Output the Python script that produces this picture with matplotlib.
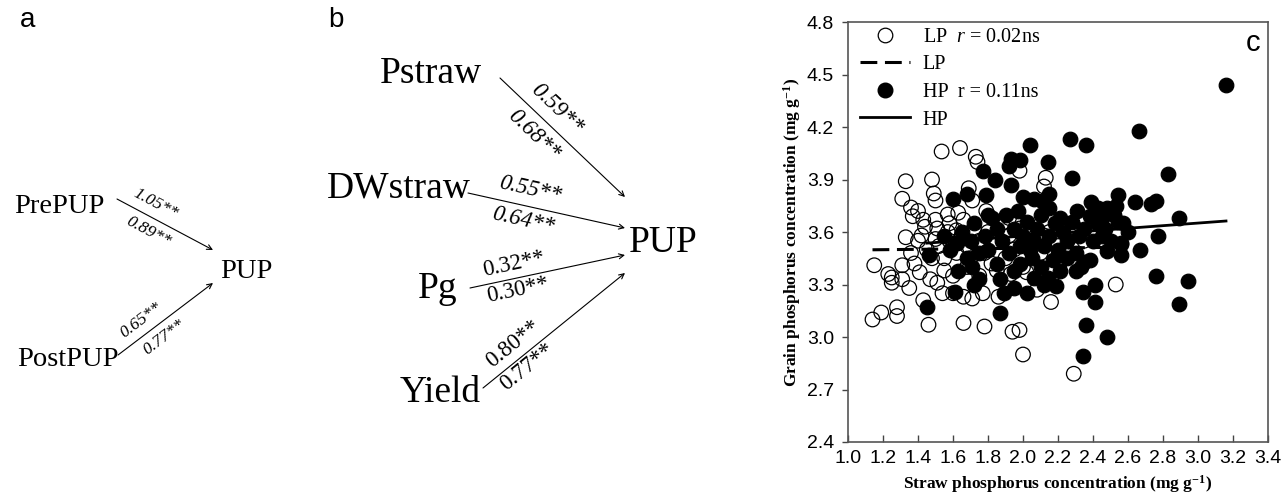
import numpy as np
import matplotlib
matplotlib.use('Agg')
import matplotlib.pyplot as plt
from matplotlib.lines import Line2D

plt.rcParams['font.family'] = ['Liberation Serif', 'DejaVu Serif']
plt.rcParams['mathtext.fontset'] = 'custom'
plt.rcParams['mathtext.rm'] = 'Liberation Serif'
plt.rcParams['mathtext.it'] = 'Liberation Serif:italic'
plt.rcParams['mathtext.bf'] = 'Liberation Serif:bold'

# path diagram a
a_sources = ['PrePUP', 'PostPUP']
a_target = 'PUP'
a_coef_top = ['1.05**', '0.65**']
a_coef_bot = ['0.89**', '0.77**']

# path diagram b
b_sources = ['Pstraw', 'DWstraw', 'Pg', 'Yield']
b_target = 'PUP'
b_coef_top = ['0.59**', '0.55**', '0.32**', '0.80**']
b_coef_bot = ['0.68**', '0.64**', '0.30**', '0.77**']

# scatter c : straw P vs grain P
lp_x = [1.15, 1.14, 1.19, 1.25, 1.25, 1.28, 1.28, 1.31, 1.35, 1.33, 1.31, 1.33, 1.36, 1.40,
        1.37, 1.48, 1.49, 1.50, 1.535, 1.64, 1.73, 1.74, 1.69, 1.71, 1.79, 1.92, 1.98, 2.13,
        2.12, 1.43, 1.50, 1.57, 1.63, 1.44, 1.51, 1.58, 1.66, 1.62, 1.40, 1.43, 1.46, 1.66,
        1.78, 1.31, 1.38, 1.41, 1.47, 1.51, 1.54, 1.60, 1.66, 1.71, 1.77, 1.86, 1.94, 1.98,
        2.00, 2.29, 2.16, 2.53, 2.08, 2.21, 2.02, 1.45, 1.52, 1.55, 1.58, 1.62, 1.65, 1.68,
        1.70, 1.72, 1.75, 1.78, 1.80, 1.82, 1.85, 1.88, 1.90, 1.92, 1.95, 1.98, 2.00, 2.05,
        2.10, 2.15, 2.20, 2.25, 2.30, 1.55, 1.60, 1.48, 1.36, 1.42, 1.50, 1.57, 1.85, 1.75,
        1.68, 2.35, 2.12, 1.93, 1.23]
lp_y = [3.41, 3.10, 3.14, 3.34, 3.31, 3.17, 3.12, 3.33, 3.28, 3.57, 3.79, 3.89, 3.74, 3.72,
        3.69, 3.90, 3.82, 3.78, 4.06, 4.08, 4.03, 4.00, 3.85, 3.78, 3.72, 3.68, 3.95, 3.91,
        3.86, 3.67, 3.67, 3.70, 3.71, 3.63, 3.62, 3.65, 3.67, 3.61, 3.55, 3.21, 3.07, 3.08,
        3.06, 3.41, 3.42, 3.37, 3.33, 3.31, 3.25, 3.25, 3.23, 3.22, 3.25, 3.23, 3.03, 3.04,
        2.90, 2.79, 3.20, 3.30, 3.27, 3.42, 3.37, 3.50, 3.52, 3.45, 3.55, 3.48, 3.58, 3.52,
        3.45, 3.62, 3.55, 3.48, 3.60, 3.42, 3.55, 3.65, 3.45, 3.58, 3.50, 3.62, 3.40, 3.55,
        3.48, 3.60, 3.52, 3.48, 3.62, 3.38, 3.35, 3.45, 3.48, 3.58, 3.56, 3.60, 3.38, 3.35,
        3.40, 3.55, 3.58, 3.36, 3.36]

hp_x = [1.45, 1.46, 1.61, 1.63, 1.71, 1.75, 1.62, 1.87, 1.89, 1.87, 1.95, 2.06, 2.14, 2.19,
        2.34, 2.34, 2.41, 2.35, 2.38, 2.33, 2.48, 2.56, 2.56, 2.67, 2.77, 2.76, 2.89, 2.94,
        1.98, 2.04, 2.06, 2.17, 2.21, 2.10, 2.36, 2.48, 2.41, 3.16, 2.66, 2.83, 2.54, 2.64,
        2.73, 2.76, 2.89, 2.57, 2.54, 2.56, 2.04, 2.27, 2.36, 2.14, 2.28, 1.93, 1.98, 1.77,
        1.84, 1.93, 1.79, 2.15, 2.00, 2.06, 2.11, 2.39, 2.43, 2.48, 2.53, 2.31, 2.38, 2.15,
        2.21, 1.60, 1.68, 1.92, 1.65, 1.70, 1.72, 1.78, 1.80, 1.82, 1.85, 1.88, 1.90, 1.92,
        1.95, 1.97, 2.00, 2.02, 2.05, 2.08, 2.10, 2.12, 2.15, 2.18, 2.20, 2.23, 2.25, 2.28,
        2.30, 2.32, 2.35, 2.40, 2.42, 2.45, 2.47, 2.50, 2.52, 2.60, 2.45, 1.75, 1.68, 1.58,
        1.55, 1.85, 1.95, 2.25, 2.30, 1.80, 1.98, 2.12, 1.72, 2.02]
hp_y = [3.17, 3.47, 3.26, 3.38, 3.40, 3.33, 3.54, 3.14, 3.25, 3.33, 3.28, 3.34, 3.34, 3.29,
        2.89, 3.26, 3.30, 3.43, 3.44, 3.40, 3.49, 3.53, 3.47, 3.50, 3.58, 3.35, 3.19, 3.32,
        3.42, 3.50, 3.55, 3.44, 3.38, 3.40, 3.07, 3.00, 3.20, 4.44, 4.18, 3.93, 3.81, 3.77,
        3.76, 3.78, 3.68, 3.65, 3.66, 3.54, 4.10, 4.13, 4.10, 4.00, 3.91, 4.02, 4.01, 3.95,
        3.90, 3.87, 3.81, 3.82, 3.80, 3.79, 3.78, 3.77, 3.74, 3.74, 3.75, 3.72, 3.69, 3.74,
        3.68, 3.79, 3.82, 3.98, 3.60, 3.55, 3.65, 3.58, 3.50, 3.68, 3.62, 3.55, 3.70, 3.48,
        3.62, 3.72, 3.58, 3.66, 3.45, 3.62, 3.70, 3.52, 3.58, 3.65, 3.50, 3.60, 3.55, 3.66,
        3.48, 3.58, 3.62, 3.55, 3.65, 3.58, 3.62, 3.55, 3.70, 3.60, 3.68, 3.48, 3.45, 3.50,
        3.58, 3.42, 3.38, 3.45, 3.38, 3.70, 3.52, 3.30, 3.30, 3.25]

# fitted lines: (x start, x end, intercept, slope)
lp_fit = (1.14, 2.53, 3.487, 0.01)
hp_fit = (1.45, 3.16, 3.429, 0.074)

W, H = 1284, 500
fig = plt.figure(figsize=(W / 100, H / 100), dpi=100)

# overlay in pixel coordinates for the two path diagrams
ov = fig.add_axes([0, 0, 1, 1])
ov.set_xlim(0, W)
ov.set_ylim(H, 0)
ov.axis('off')


def arrow(p0, p1):
    ov.annotate('', xy=p1, xytext=p0,
                arrowprops=dict(arrowstyle='->', lw=0.8, color='black',
                                shrinkA=0, shrinkB=0, mutation_scale=9))


def path_label(p0, p1, txt, frac, off, size, style):
    p0 = np.array(p0, float)
    p1 = np.array(p1, float)
    d = p1 - p0
    d = d / np.hypot(*d)
    n = np.array([d[1], -d[0]])
    pos = p0 + frac * (p1 - p0) + n * off
    ang = -np.degrees(np.arctan2(d[1], d[0]))
    ov.text(pos[0], pos[1], txt, rotation=ang, rotation_mode='anchor',
            ha='center', va='center', fontsize=size, style=style)


# --- panel a ---
ov.text(28, 20, 'a', family='Liberation Sans', fontsize=20, ha='center', va='center')
a_nodes = [(14, 213), (17, 366)]
a_starts = [(117, 199), (118, 355)]
a_ends = [(213, 250), (213, 283)]
for i, name in enumerate(a_sources):
    ov.text(a_nodes[i][0], a_nodes[i][1], name, fontsize=20.5, va='baseline', ha='left')
    arrow(a_starts[i], a_ends[i])
    path_label(a_starts[i], a_ends[i], a_coef_top[i], 0.33, 14, 12.5, 'italic')
    path_label(a_starts[i], a_ends[i], a_coef_bot[i], 0.40, -14, 12.5, 'italic')
ov.text(220, 278, a_target, fontsize=20.5, va='baseline', ha='left')

# --- panel b ---
ov.text(336, 20, 'b', family='Liberation Sans', fontsize=20, ha='center', va='center')
b_nodes = [(380, 83), (327, 197), (418, 298), (400, 402)]
b_starts = [(500, 78), (468, 193), (470, 288), (483, 388)]
b_ends = [(625, 197), (625, 228), (625, 255), (625, 273)]
b_styles = ['italic', 'italic', 'normal', 'normal']
b_top = [(0.36, 17), (0.37, 17), (0.30, 14), (0.28, 15)]
b_bot = [(0.37, -18), (0.37, -15), (0.29, -12), (0.26, -12)]
for i, name in enumerate(b_sources):
    ov.text(b_nodes[i][0], b_nodes[i][1], name, fontsize=27, va='baseline', ha='left')
    arrow(b_starts[i], b_ends[i])
    path_label(b_starts[i], b_ends[i], b_coef_top[i], b_top[i][0], b_top[i][1], 16.5, b_styles[i])
    path_label(b_starts[i], b_ends[i], b_coef_bot[i], b_bot[i][0], b_bot[i][1], 16.5, b_styles[i])
ov.text(629, 252, b_target, fontsize=27, va='baseline', ha='left')

# --- panel c ---
ax = fig.add_axes([848 / W, 1 - 442 / H, 420 / W, 420 / H])
ax.scatter(lp_x, lp_y, s=110, facecolors='none', edgecolors='black', linewidths=0.9, zorder=2)
xs = np.array(lp_fit[:2])
ax.plot(xs, lp_fit[2] + lp_fit[3] * xs, color='black', lw=2.2, ls=(0, (5.5, 2.5)), zorder=3)
ax.scatter(hp_x, hp_y, s=110, facecolors='black', edgecolors='black', linewidths=0.9, zorder=4)
xs = np.array(hp_fit[:2])
ax.plot(xs, hp_fit[2] + hp_fit[3] * xs, color='black', lw=2.0, zorder=5)

ax.set_xlim(1.0, 3.4)
ax.set_ylim(2.4, 4.8)
ax.set_xticks(np.arange(1.0, 3.41, 0.2))
ax.set_yticks(np.arange(2.4, 4.81, 0.3))
ax.xaxis.set_major_formatter(plt.FormatStrFormatter('%.1f'))
ax.yaxis.set_major_formatter(plt.FormatStrFormatter('%.1f'))
ax.tick_params(axis='x', direction='in', length=5, pad=6, labelsize=14, width=1, color='#444444')
ax.tick_params(axis='y', direction='out', length=4, pad=6, labelsize=14, width=1, color='#444444')
for lab in ax.get_xticklabels() + ax.get_yticklabels():
    lab.set_family('Liberation Sans')
for sp in ax.spines.values():
    sp.set_color('#555555')
    sp.set_linewidth(1.2)

ax.set_xlabel(r'Straw phosphorus concentration (mg g$^{\mathbf{-1}}$)', fontsize=12.5, fontweight='bold')
ax.set_ylabel(r'Grain phosphorus concentration (mg g$^{\mathbf{-1}}$)', fontsize=12.5, fontweight='bold')
ax.xaxis.set_label_coords(0.5, -0.075)
ax.yaxis.set_label_coords(-0.106, 0.5)

ax.text(0.965, 0.95, 'c', transform=ax.transAxes, family='Liberation Sans', fontsize=21,
        ha='center', va='center')

handles = [
    Line2D([], [], ls='none', marker='o', ms=10.5, mfc='none', mec='black', mew=0.9),
    Line2D([], [], color='black', lw=2.2, ls=(0, (5.5, 2.5))),
    Line2D([], [], ls='none', marker='o', ms=10.5, mfc='black', mec='black'),
    Line2D([], [], color='black', lw=2.0),
]
labels = [r'LP  $r$ = 0.02ns', 'LP', 'HP  r = 0.11ns', 'HP']
ax.legend(handles, labels, loc='upper left', bbox_to_anchor=(0.0, 1.015), frameon=False,
          fontsize=14.5, handlelength=2.5, handletextpad=0.6, labelspacing=0.42,
          borderaxespad=0.2)

fig.savefig('out.png', dpi=100)
